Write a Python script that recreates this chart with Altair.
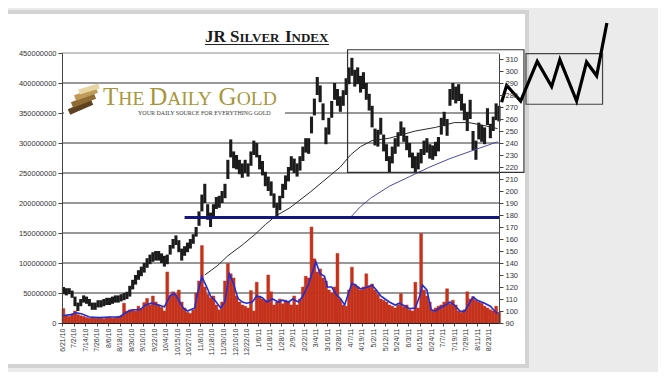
import altair as alt
import pandas as pd

# ---------------- data ----------------
date_labels = ["6/21/10", "7/2/10", "7/14/10", "7/26/10", "8/6/10", "8/18/10", "8/30/10",
               "9/10/10", "9/22/10", "10/4/10", "10/15/10", "10/27/10", "11/8/10", "11/18/10",
               "11/30/10", "12/10/10", "12/22/10", "1/6/11", "1/18/11", "1/28/11", "2/9/11",
               "2/22/11", "3/4/11", "3/16/11", "3/28/11", "4/7/11", "4/19/11", "5/2/11",
               "5/12/11", "5/24/11", "6/3/11", "6/15/11", "6/24/11", "7/7/11", "7/19/11",
               "7/29/11", "8/11/11", "8/23/11"]

# price (right axis), one bar per two sessions: low / high
price_lo = [114, 113, 114, 111, 104, 100, 104, 107, 106, 104, 101, 101, 103, 103, 104, 105,
            105, 106, 107, 107, 108, 109, 110, 112, 118, 122, 126, 129, 132, 136, 139, 141,
            142, 142, 140, 137, 139, 147, 152, 155, 149, 142, 146, 149, 152, 156, 162, 171,
            183, 190, 176, 170, 179, 185, 186, 190, 194, 210, 228, 219, 218, 214, 211, 215,
            212, 221, 230, 228, 218, 213, 204, 200, 196, 186, 179, 184, 194, 201, 208, 217,
            215, 212, 217, 225, 232, 231, 248, 263, 280, 274, 259, 239, 247, 261, 276, 271,
            266, 271, 280, 289, 296, 287, 289, 282, 285, 276, 267, 253, 238, 237, 247, 233,
            225, 215, 223, 231, 237, 246, 241, 234, 228, 219, 215, 218, 223, 230, 232, 227,
            226, 229, 233, 247, 254, 246, 271, 276, 273, 275, 267, 259, 250, 260, 234, 226,
            243, 241, 239, 255, 244, 250, 259, 258]
price_hi = [120, 119, 119, 117, 112, 107, 110, 113, 112, 110, 107, 107, 109, 109, 110, 111,
            111, 112, 113, 113, 114, 115, 116, 121, 126, 130, 134, 137, 140, 144, 147, 149,
            150, 150, 148, 146, 147, 155, 160, 163, 159, 152, 154, 157, 160, 164, 170, 183,
            197, 206, 189, 182, 189, 195, 196, 200, 206, 226, 243, 233, 230, 226, 223, 226,
            223, 233, 242, 240, 230, 225, 216, 212, 208, 198, 190, 196, 206, 213, 220, 229,
            227, 223, 229, 237, 244, 244, 262, 277, 295, 288, 273, 253, 261, 275, 290, 285,
            279, 284, 294, 303, 311, 301, 303, 296, 299, 290, 281, 271, 252, 251, 261, 247,
            239, 229, 237, 244, 249, 258, 253, 246, 240, 232, 229, 232, 235, 242, 244, 239,
            238, 241, 245, 261, 266, 260, 285, 290, 287, 289, 281, 273, 266, 276, 250, 242,
            257, 255, 253, 269, 256, 262, 273, 271]
# volume (left axis), millions
volume_m = [24, 12, 11, 14, 20, 14, 12, 11, 9, 8, 10, 8, 8, 9, 7, 9,
            10, 8, 9, 11, 12, 33, 20, 22, 22, 20, 28, 24, 34, 41, 30, 45,
            35, 30, 26, 20, 85, 45, 52, 48, 55, 35, 25, 18, 16, 22, 50, 70,
            129, 60, 48, 42, 45, 30, 22, 35, 70, 99, 82, 75, 45, 35, 30, 28,
            25, 54, 20, 68, 45, 40, 38, 80, 52, 30, 35, 40, 32, 38, 35, 30,
            45, 30, 40, 60, 78, 75, 160, 107, 85, 90, 75, 70, 55, 50, 60, 116,
            40, 30, 28, 55, 93, 65, 60, 55, 60, 82, 62, 65, 55, 48, 40, 38,
            35, 30, 28, 25, 30, 49, 27, 30, 22, 20, 68, 25, 149, 55, 45, 35,
            20, 25, 28, 30, 35, 57, 32, 38, 30, 20, 18, 22, 52, 40, 44, 38,
            35, 33, 28, 25, 22, 20, 28, 18]
# volume moving average (session index, millions)
vol_ma_idx = [0, 6, 10, 14, 19, 26, 33, 40, 44, 49, 54, 58, 62, 67, 71, 75, 78, 80, 84, 87,
              92, 94, 97, 100, 103, 106, 110, 113, 116, 119, 122, 125, 128, 132, 135, 139,
              142, 146, 150, 153, 157, 160, 164, 167, 171, 173, 176, 179, 182, 184, 187,
              190, 193, 196, 198, 201, 204, 207, 209, 212, 215, 218, 221, 224, 227, 231,
              234, 238, 241, 245, 248, 250, 253, 256, 259, 262, 266, 269, 272, 276, 279,
              283, 285, 288, 293, 297, 300, 302]
vol_ma_m = [12, 14, 17, 15, 10, 9, 10, 10, 17, 22, 22, 30, 33, 30, 27, 46, 49, 42, 25, 20,
            25, 50, 77, 62, 45, 38, 25, 35, 82, 65, 41, 35, 33, 35, 45, 42, 35, 40, 35, 38,
            35, 40, 35, 45, 65, 80, 102, 82, 78, 60, 60, 48, 41, 30, 45, 66, 62, 57, 58, 60,
            63, 55, 45, 40, 35, 30, 33, 28, 24, 25, 45, 63, 55, 22, 20, 25, 30, 35, 30, 20,
            19, 35, 43, 38, 33, 28, 20, 16]
# long price moving average (black) and second moving average (blue)
ma_long_idx = [99, 108, 115, 125, 134, 141, 148, 158, 172, 186, 193, 200, 207, 215, 227,
               245, 259, 272, 282, 291, 302]
ma_long = [130, 138, 146, 155, 164, 172, 179, 186, 199, 213, 220, 230, 237, 242, 244,
           250, 253, 257, 257, 255, 252]
ma_blue_idx = [200, 207, 214, 227, 241, 255, 269, 283, 302]
ma_blue = [178, 187, 194, 204, 212, 220, 227, 233, 241]

vol_ticks_m = [0, 50, 100, 150, 200, 250, 300, 350, 400, 450]
grid_m = [50, 100, 150, 200, 250, 300, 350, 400]
price_ticks = list(range(90, 320, 10))

support_price = [178]
support_from = [85]
box_main = {"x0": [198], "x1": [320.3], "y0": [215.6], "y1": [317.7]}
box_side = {"x0": [321.7], "x1": [374.8], "y0": [272.3], "y1": [314.5]}
zig_idx = [304.8, 308.3, 318, 329.5, 339.5, 345.2, 356.8, 363.7, 370.7, 377.8]
zig_val = [274, 288, 275, 308, 287, 309.5, 275, 307.5, 296, 340]

N_CAT = 303

# ---------------- tables ----------------
idx = list(range(0, 2 * len(volume_m), 2))
bars = pd.DataFrame({"i": idx, "lo": price_lo, "hi": price_hi,
                     "vol": [v * 1e6 for v in volume_m]})
bars["i2"] = bars["i"] + 2
bars["im"] = bars["i"] + 1
bars["zero"] = 0
vma = pd.DataFrame({"i": vol_ma_idx, "v": [v * 1e6 for v in vol_ma_m]})
mal = pd.DataFrame({"i": ma_long_idx, "p": ma_long})
mab = pd.DataFrame({"i": ma_blue_idx, "p": ma_blue})
grid = pd.DataFrame({"g": [g * 1e6 for g in grid_m]})
topg = pd.DataFrame({"g": [vol_ticks_m[-1] * 1e6]})
sup = pd.DataFrame({"x0": support_from, "x1": [N_CAT], "p": support_price})
b1 = pd.DataFrame(box_main)
b2 = pd.DataFrame(box_side)
zig = pd.DataFrame({"i": zig_idx, "p": zig_val, "n": list(range(len(zig_idx)))})
one = pd.DataFrame({"a": [0]})

xs = alt.Scale(domain=[0, N_CAT], nice=False, zero=False)
vs = alt.Scale(domain=[0, vol_ticks_m[-1] * 1e6], nice=False)
ps = alt.Scale(domain=[90, 315], nice=False, zero=False)

label_expr = "[" + ",".join("'" + s + "'" for s in date_labels) + "][round(datum.value / 8)]"

X_AX = alt.Axis(values=[8 * k for k in range(len(date_labels))], labelExpr=label_expr,
                labelAngle=270, labelFontSize=7, labelPadding=2, tickSize=3, labelFlush=False,
                labelOverlap=False, labelFont="Liberation Sans", labelColor="#333",
                tickColor="#444", domainColor="#222", grid=False, title=None, zindex=1)
V_AX = alt.Axis(orient="left", values=[v * 1e6 for v in vol_ticks_m], format="d", tickSize=4,
                labelPadding=2, labelFont="Liberation Sans", labelColor="#333", labelFontSize=7.5,
                tickColor="#444", domainColor="#444", grid=False, title=None, zindex=1)
P_AX = alt.Axis(orient="right", values=price_ticks, tickSize=4, labelPadding=2,
                labelFont="Liberation Sans", labelColor="#333", labelFontSize=7.5,
                tickColor="#444", domainColor="#444", grid=False, title=None, zindex=1)

# ---------------- decoration (gray surround, card border, title, logo) ----------------
surround = []
for (xa, xb, ya, yb) in [(465, 600, -50, 330), (-60, 600, -50, -41), (-60, 600, 313, 330)]:
    surround.append(alt.Chart(one).mark_rect(fill="#ebebeb").encode(
        x=alt.value(xa), x2=alt.value(xb), y=alt.value(ya), y2=alt.value(yb)))
card_edge = alt.Chart(one).mark_rect(fillOpacity=0, stroke="#d3d3d3", strokeWidth=4).encode(
    x=alt.value(-56), x2=alt.value(465), y=alt.value(-41), y2=alt.value(313))

title_runs = []
for txt, size, px in [("JR S", 17, 143), ("ILVER", 13, 177.5), ("I", 17, 222.9), ("NDEX", 13, 229.5)]:
    title_runs.append(alt.Chart(one).mark_text(
        text=txt, font="Liberation Serif", fontWeight="bold", fontSize=size,
        align="left", baseline="alphabetic", color="#1a1a1a").encode(
        x=alt.value(px), y=alt.value(-11.3)))
underline = alt.Chart(one).mark_rule(color="#222", strokeWidth=1.2).encode(
    x=alt.value(143), x2=alt.value(267), y=alt.value(-8.5))

gridlines = alt.Chart(grid).mark_rule(color="#767676", strokeWidth=1.3).encode(
    y=alt.Y("g:Q", scale=vs, axis=V_AX), x=alt.value(0), x2=alt.value(437))
topline = alt.Chart(topg).mark_rule(color="#c6c6c6", strokeWidth=2).encode(
    y=alt.Y("g:Q", scale=vs, axis=V_AX), x=alt.value(0), x2=alt.value(437))

logo_box = alt.Chart(one).mark_rect(fill="white").encode(
    x=alt.value(2), x2=alt.value(223), y=alt.value(33), y2=alt.value(69))
logo_runs = []
for txt, size, px in [("T", 25, 41), ("HE", 19.5, 56.3), ("D", 25, 87.2), ("AILY", 19.5, 105.2),
                      ("G", 25, 156.6), ("OLD", 19.5, 174.7)]:
    logo_runs.append(alt.Chart(one).mark_text(
        text=txt, font="Liberation Serif", fontSize=size, align="left",
        baseline="alphabetic", color="#a8973a").encode(x=alt.value(px), y=alt.value(52.3)))
tagline = alt.Chart(one).mark_text(
    text="YOUR DAILY SOURCE FOR EVERYTHING GOLD", font="Liberation Serif", fontSize=6,
    align="left", baseline="alphabetic", color="#3a3a3a").encode(x=alt.value(76), y=alt.value(61.5))
icon = []
for (xa, ya, xb, yb, col, w) in [(7, 59, 30, 49, "#5e4220", 6), (10, 52, 33, 43, "#8e6c34", 6),
                                 (13, 45, 35, 37, "#c09a5a", 6), (17, 39, 37, 33, "#e6d6a4", 5)]:
    icon.append(alt.Chart(one).mark_rule(color=col, strokeWidth=w).encode(
        x=alt.value(xa), y=alt.value(ya), x2=alt.value(xb), y2=alt.value(yb)))

# ---------------- volume group (left axis) ----------------
vol_bars = alt.Chart(bars).mark_rect(color="#c4321c", stroke="#c4321c", strokeWidth=0.5).encode(
    x=alt.X("i:Q", scale=xs, axis=X_AX), x2="i2:Q",
    y=alt.Y("vol:Q", scale=vs, axis=V_AX), y2="zero:Q")
vol_line = alt.Chart(vma).mark_line(color="#1f2fd2", strokeWidth=1.6).encode(
    x=alt.X("i:Q", scale=xs, axis=X_AX), y=alt.Y("v:Q", scale=vs, axis=V_AX))

vol_group = alt.layer(*surround, card_edge, *title_runs, underline, gridlines, topline, logo_box,
                      *icon, *logo_runs, tagline, vol_bars, vol_line)

# ---------------- price group (right axis) ----------------
candles = alt.Chart(bars).mark_rule(color="#1c1c1c", strokeWidth=3.1).encode(
    x=alt.X("im:Q", scale=xs, axis=X_AX), y=alt.Y("lo:Q", scale=ps, axis=P_AX), y2="hi:Q")
ma_long_line = alt.Chart(mal).mark_line(color="#2a2a2a", strokeWidth=1).encode(
    x=alt.X("i:Q", scale=xs, axis=X_AX), y=alt.Y("p:Q", scale=ps, axis=P_AX))
ma_blue_line = alt.Chart(mab).mark_line(color="#4a4aa8", strokeWidth=1).encode(
    x=alt.X("i:Q", scale=xs, axis=X_AX), y=alt.Y("p:Q", scale=ps, axis=P_AX))
support = alt.Chart(sup).mark_rule(color="#15157e", strokeWidth=3).encode(
    x=alt.X("x0:Q", scale=xs, axis=X_AX), x2="x1:Q", y=alt.Y("p:Q", scale=ps, axis=P_AX))
box1 = alt.Chart(b1).mark_rect(fillOpacity=0, stroke="#333", strokeWidth=1.2, clip=False).encode(
    x=alt.X("x0:Q", scale=xs, axis=X_AX), x2="x1:Q",
    y=alt.Y("y0:Q", scale=ps, axis=P_AX), y2="y1:Q")
box2 = alt.Chart(b2).mark_rect(fillOpacity=0, stroke="#444", strokeWidth=1.2, clip=False).encode(
    x=alt.X("x0:Q", scale=xs, axis=X_AX), x2="x1:Q",
    y=alt.Y("y0:Q", scale=ps, axis=P_AX), y2="y1:Q")
zigzag = alt.Chart(zig).mark_line(color="#000", strokeWidth=3.2, clip=False).encode(
    x=alt.X("i:Q", scale=xs, axis=X_AX), y=alt.Y("p:Q", scale=ps, axis=P_AX), order="n:O")

price_group = alt.layer(candles, ma_long_line, ma_blue_line, support, box1, box2, zigzag)

chart = alt.layer(vol_group, price_group).resolve_scale(y="independent").properties(
    width=437, height=270, autosize="none", background="white",
    padding={"left": 54, "top": 45, "right": 159, "bottom": 49}
).configure_view(stroke=None)

chart.save("out.html", embed_options={"renderer": "svg", "actions": False})
